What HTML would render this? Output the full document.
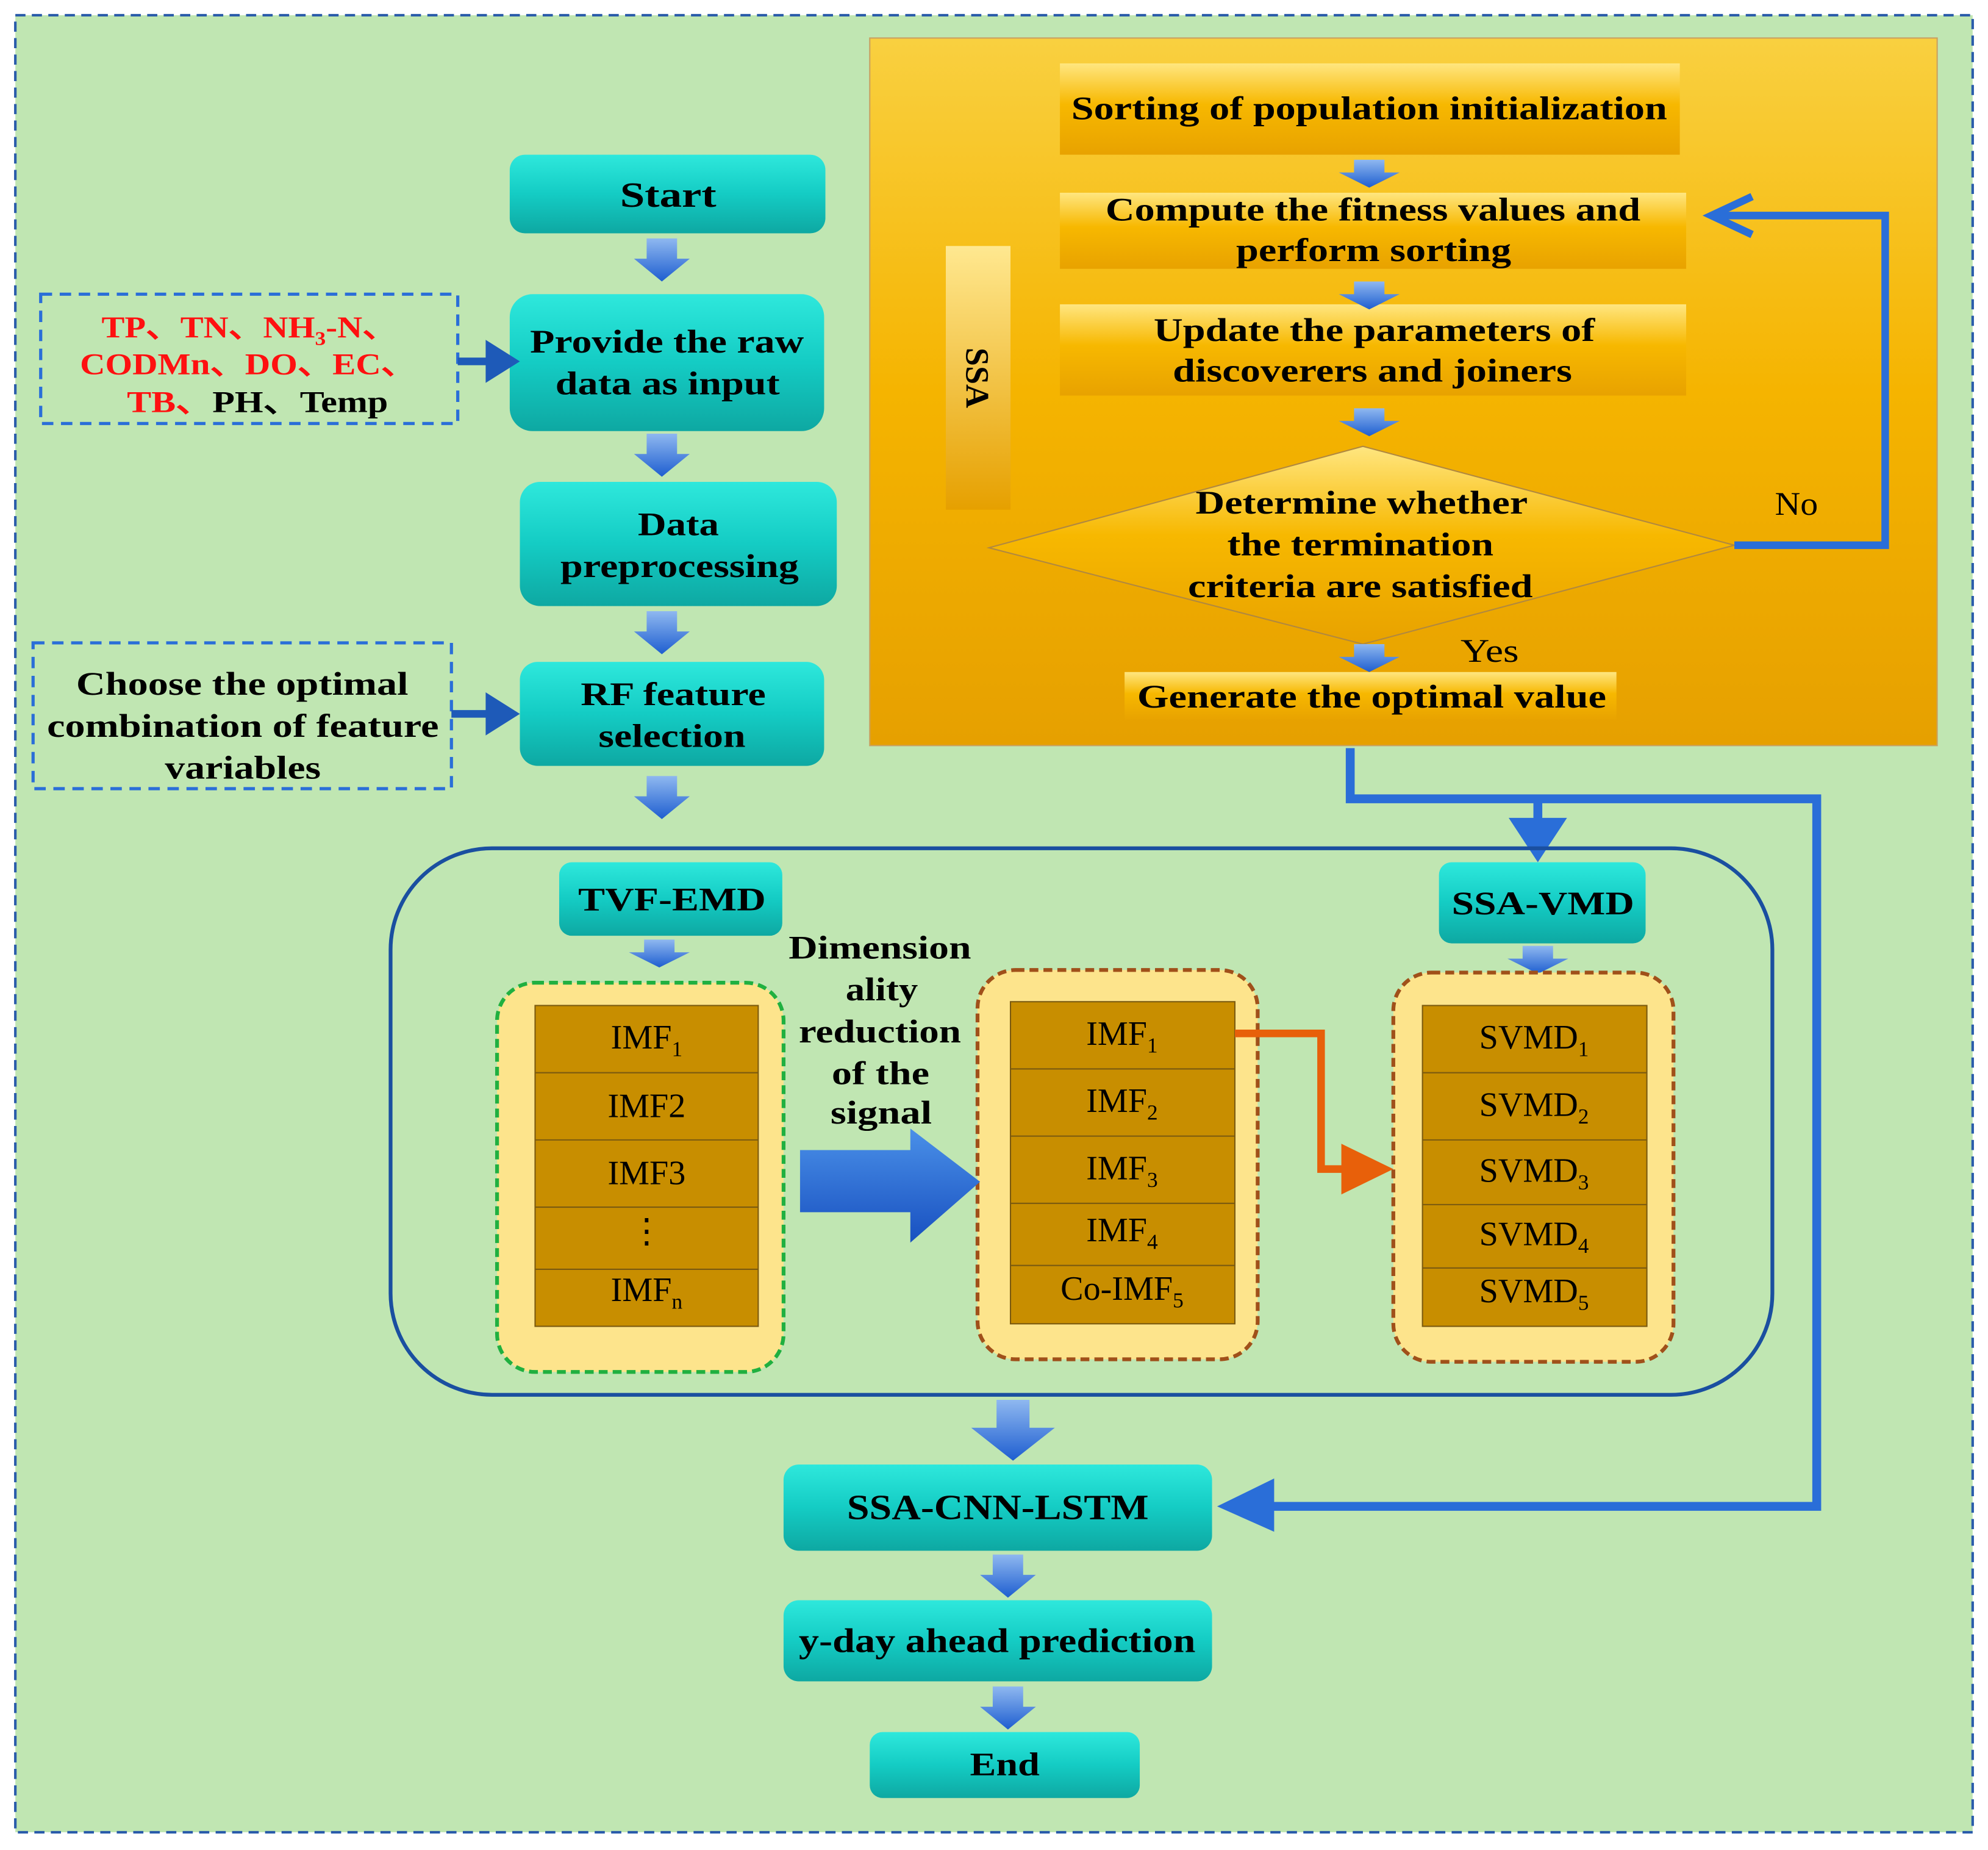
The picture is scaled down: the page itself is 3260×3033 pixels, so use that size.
<!DOCTYPE html>
<html><head><meta charset="utf-8">
<style>
html,body{margin:0;padding:0;background:#fff;}
svg{display:block;}
text{font-family:"Liberation Serif",serif;font-weight:bold;}
.n{font-weight:normal;}
</style></head>
<body>
<svg width="3260" height="3033" viewBox="0 0 1568 1459" xmlns="http://www.w3.org/2000/svg">
<defs>
<linearGradient id="teal" x1="0" y1="0" x2="0" y2="1">
<stop offset="0" stop-color="#2ee8dc"/><stop offset="0.5" stop-color="#14ccc4"/><stop offset="1" stop-color="#0ea8a2"/></linearGradient>
<linearGradient id="org" x1="0" y1="0" x2="0" y2="1">
<stop offset="0" stop-color="#f9d040"/><stop offset="0.5" stop-color="#f5b400"/><stop offset="1" stop-color="#e6a000"/></linearGradient>
<linearGradient id="box" x1="0" y1="0" x2="0" y2="1">
<stop offset="0" stop-color="#ffe680"/><stop offset="0.45" stop-color="#f7b800"/><stop offset="1" stop-color="#e8a200"/></linearGradient>
<linearGradient id="ssa" x1="0" y1="0" x2="0" y2="1">
<stop offset="0" stop-color="#ffe890"/><stop offset="1" stop-color="#e6a000"/></linearGradient>
<linearGradient id="barr" x1="0" y1="0" x2="0" y2="1">
<stop offset="0" stop-color="#8fb8f0"/><stop offset="1" stop-color="#1e5ed0"/></linearGradient>
<linearGradient id="bigarr" x1="0" y1="0" x2="0" y2="1">
<stop offset="0" stop-color="#4a90e8"/><stop offset="1" stop-color="#1850c0"/></linearGradient>
<g id="da"><path d="M-12,0 H12 V16 H22 L0,34 L-22,16 H-12 Z" fill="url(#barr)"/></g>
<g id="das"><path d="M-12,0 H12 V10 H24 L0,22 L-24,10 H-12 Z" fill="url(#barr)"/></g>
</defs>
<rect x="0" y="0" width="1568" height="1459" fill="#fff"/>
<rect x="12" y="12" width="1544" height="1433" fill="#c0e6b2" stroke="#2a5caa" stroke-width="2" stroke-dasharray="8,5"/>

<!-- SSA panel -->
<rect x="686" y="30" width="842" height="558" fill="url(#org)" stroke="#c9a060" stroke-width="1"/>
<rect x="746" y="194" width="51" height="208" fill="url(#ssa)"/>
<text transform="translate(762,298) rotate(90)" font-size="26" text-anchor="middle" fill="#000">SSA</text>
<rect x="836" y="50" width="489" height="72" fill="url(#box)"/>
<text x="845" y="94" font-size="26" textLength="470" lengthAdjust="spacingAndGlyphs">Sorting of population initialization</text>
<rect x="836" y="152" width="494" height="60" fill="url(#box)"/>
<text x="872" y="174" font-size="26" textLength="422" lengthAdjust="spacingAndGlyphs">Compute the fitness values and</text>
<text x="975" y="206" font-size="26" textLength="217" lengthAdjust="spacingAndGlyphs">perform sorting</text>
<rect x="836" y="240" width="494" height="72" fill="url(#box)"/>
<text x="910" y="269" font-size="26" textLength="348" lengthAdjust="spacingAndGlyphs">Update the parameters of</text>
<text x="925" y="301" font-size="26" textLength="315" lengthAdjust="spacingAndGlyphs">discoverers and joiners</text>
<path d="M780,432 L1075,352 L1368,430 L1075,508 Z" fill="url(#box)" stroke="#b08840" stroke-width="1"/>
<text x="943" y="405" font-size="26" textLength="262" lengthAdjust="spacingAndGlyphs">Determine whether</text>
<text x="968" y="438" font-size="26" textLength="210" lengthAdjust="spacingAndGlyphs">the termination</text>
<text x="937" y="471" font-size="26" textLength="272" lengthAdjust="spacingAndGlyphs">criteria are satisfied</text>
<rect x="887" y="530" width="388" height="38" fill="url(#box)"/>
<text x="897" y="558" font-size="26" textLength="370" lengthAdjust="spacingAndGlyphs">Generate the optimal value</text>
<text x="1400" y="406" font-size="26" class="n" textLength="34" lengthAdjust="spacingAndGlyphs">No</text>
<text x="1152" y="522" font-size="26" class="n" textLength="46" lengthAdjust="spacingAndGlyphs">Yes</text>
<use href="#das" x="1080" y="126"/>
<use href="#das" x="1080" y="222"/>
<use href="#das" x="1080" y="322"/>
<use href="#das" x="1080" y="508"/>
<path d="M1368,430 H1487 V170 H1352" fill="none" stroke="#2a6ed8" stroke-width="6"/>
<path d="M1382,155 L1350,170 L1382,185" fill="none" stroke="#2a6ed8" stroke-width="6"/>

<path d="M1065,590 V630 H1433 V1188 H990" fill="none" stroke="#2a6ed8" stroke-width="7"/>
<path d="M1005,1166 L960,1188 L1005,1208 Z" fill="#2a6ed8"/>
<path d="M1213,630 V650" stroke="#2a6ed8" stroke-width="7"/>
<path d="M1190,645 H1236 L1213,680 Z" fill="#2a6ed8"/>

<!-- left teal nodes -->
<rect x="402" y="122" width="249" height="62" rx="12" fill="url(#teal)"/>
<text x="489" y="163" font-size="28" textLength="76" lengthAdjust="spacingAndGlyphs">Start</text>
<rect x="402" y="232" width="248" height="108" rx="18" fill="url(#teal)"/>
<text x="418" y="278" font-size="26" textLength="216" lengthAdjust="spacingAndGlyphs">Provide the raw</text>
<text x="438" y="311" font-size="26" textLength="177" lengthAdjust="spacingAndGlyphs">data as input</text>
<rect x="410" y="380" width="250" height="98" rx="16" fill="url(#teal)"/>
<text x="503" y="422" font-size="26" textLength="64" lengthAdjust="spacingAndGlyphs">Data</text>
<text x="442" y="455" font-size="26" textLength="188" lengthAdjust="spacingAndGlyphs">preprocessing</text>
<rect x="410" y="522" width="240" height="82" rx="14" fill="url(#teal)"/>
<text x="458" y="556" font-size="26" textLength="146" lengthAdjust="spacingAndGlyphs">RF feature</text>
<text x="472" y="589" font-size="26" textLength="116" lengthAdjust="spacingAndGlyphs">selection</text>
<use href="#da" x="522" y="188"/>
<use href="#da" x="522" y="342"/>
<use href="#da" x="522" y="482"/>
<use href="#da" x="522" y="612"/>

<rect x="32" y="232" width="329" height="102" fill="none" stroke="#2a6ed8" stroke-width="2.5" stroke-dasharray="9,6"/>
<text x="80" y="266" font-size="24" fill="#ff1010" textLength="233" lengthAdjust="spacingAndGlyphs">TP、TN、NH<tspan font-size="15" dy="6">3</tspan><tspan dy="-6">-N、</tspan></text>
<text x="63" y="295" font-size="24" fill="#ff1010" textLength="265" lengthAdjust="spacingAndGlyphs">CODMn、DO、EC、</text>
<text x="100" y="325" font-size="24" textLength="206" lengthAdjust="spacingAndGlyphs"><tspan fill="#ff1010">TB、</tspan><tspan fill="#000">PH、Temp</tspan></text>
<rect x="26" y="507" width="330" height="115" fill="none" stroke="#2a6ed8" stroke-width="2.5" stroke-dasharray="9,6"/>
<text x="60" y="548" font-size="26" textLength="262" lengthAdjust="spacingAndGlyphs">Choose the optimal</text>
<text x="37" y="581" font-size="26" textLength="309" lengthAdjust="spacingAndGlyphs">combination of feature</text>
<text x="130" y="614" font-size="26" textLength="123" lengthAdjust="spacingAndGlyphs">variables</text>
<path d="M361,285 H385" stroke="#1e5ab8" stroke-width="6"/>
<path d="M383,268 L410,285 L383,302 Z" fill="#1e5ab8"/>
<path d="M356,563 H385" stroke="#1e5ab8" stroke-width="6"/>
<path d="M383,546 L410,563 L383,580 Z" fill="#1e5ab8"/>

<rect x="308" y="669" width="1090" height="431" rx="80" fill="none" stroke="#1a4fa0" stroke-width="3"/>
<rect x="441" y="680" width="176" height="58" rx="10" fill="url(#teal)"/>
<text x="456" y="718" font-size="26" textLength="148" lengthAdjust="spacingAndGlyphs">TVF-EMD</text>
<rect x="1135" y="680" width="163" height="64" rx="10" fill="url(#teal)"/>
<text x="1145" y="721" font-size="26" textLength="144" lengthAdjust="spacingAndGlyphs">SSA-VMD</text>
<use href="#das" x="520" y="741"/>
<use href="#das" x="1213" y="746"/>

<text x="622" y="756" font-size="26" textLength="144" lengthAdjust="spacingAndGlyphs">Dimension</text>
<text x="667" y="789" font-size="26" textLength="57" lengthAdjust="spacingAndGlyphs">ality</text>
<text x="630" y="822" font-size="26" textLength="128" lengthAdjust="spacingAndGlyphs">reduction</text>
<text x="656" y="855" font-size="26" textLength="77" lengthAdjust="spacingAndGlyphs">of the</text>
<text x="655" y="886" font-size="26" textLength="80" lengthAdjust="spacingAndGlyphs">signal</text>

<rect x="392" y="775" width="226" height="307" rx="30" fill="#fde48c" stroke="#20b040" stroke-width="3" stroke-dasharray="7,4"/>
<rect x="771" y="765" width="221" height="307" rx="30" fill="#fde48c" stroke="#a0501a" stroke-width="3" stroke-dasharray="7,4"/>
<rect x="1099" y="767" width="221" height="307" rx="30" fill="#fde48c" stroke="#a0501a" stroke-width="3" stroke-dasharray="7,4"/>

<g stroke="#7a5a10" stroke-width="1" fill="#c88e00">
<rect x="422" y="793" width="176" height="253"/>
<rect x="797" y="790" width="177" height="254"/>
<rect x="1122" y="793" width="177" height="253"/>
</g>
<g stroke="#7a5a10" stroke-width="1">
<path d="M422,846H598M422,899H598M422,952H598M422,1001H598"/>
<path d="M797,843H974M797,896H974M797,949H974M797,998H974"/>
<path d="M1122,846H1299M1122,899H1299M1122,950H1299M1122,1000H1299"/>
</g>
<g font-size="27" text-anchor="middle">
<text x="510" y="827" class="n">IMF<tspan font-size="17" dy="6">1</tspan></text>
<text x="510" y="881" class="n">IMF2</text>
<text x="510" y="934" class="n">IMF3</text>
<text x="510" y="980" class="n">⋮</text>
<text x="510" y="1026" class="n">IMF<tspan font-size="17" dy="6">n</tspan></text>
<text x="885" y="824" class="n">IMF<tspan font-size="17" dy="6">1</tspan></text>
<text x="885" y="877" class="n">IMF<tspan font-size="17" dy="6">2</tspan></text>
<text x="885" y="930" class="n">IMF<tspan font-size="17" dy="6">3</tspan></text>
<text x="885" y="979" class="n">IMF<tspan font-size="17" dy="6">4</tspan></text>
<text x="885" y="1025" class="n">Co-IMF<tspan font-size="17" dy="6">5</tspan></text>
<text x="1210" y="827" class="n">SVMD<tspan font-size="17" dy="6">1</tspan></text>
<text x="1210" y="880" class="n">SVMD<tspan font-size="17" dy="6">2</tspan></text>
<text x="1210" y="932" class="n">SVMD<tspan font-size="17" dy="6">3</tspan></text>
<text x="1210" y="982" class="n">SVMD<tspan font-size="17" dy="6">4</tspan></text>
<text x="1210" y="1027" class="n">SVMD<tspan font-size="17" dy="6">5</tspan></text>
</g>

<path d="M631,907 H718 V890 L773,932 L718,980 V956 H631 Z" fill="url(#bigarr)"/>
<path d="M974,815 H1042 V922 H1062" fill="none" stroke="#e8600a" stroke-width="6"/>
<path d="M1058,902 L1099,922 L1058,942 Z" fill="#e8600a"/>

<path d="M786,1104 H812 V1126 H832 L799,1152 L766,1126 H786 Z" fill="url(#barr)"/>
<rect x="618" y="1155" width="338" height="68" rx="12" fill="url(#teal)"/>
<text x="668" y="1198" font-size="28" textLength="238" lengthAdjust="spacingAndGlyphs">SSA-CNN-LSTM</text>
<use href="#da" x="795" y="1226"/>
<rect x="618" y="1262" width="338" height="64" rx="12" fill="url(#teal)"/>
<text x="630" y="1303" font-size="27" textLength="313" lengthAdjust="spacingAndGlyphs">y-day ahead prediction</text>
<use href="#da" x="795" y="1330"/>
<rect x="686" y="1366" width="213" height="52" rx="10" fill="url(#teal)"/>
<text x="765" y="1400" font-size="26" textLength="55" lengthAdjust="spacingAndGlyphs">End</text>
</svg>
</body></html>
